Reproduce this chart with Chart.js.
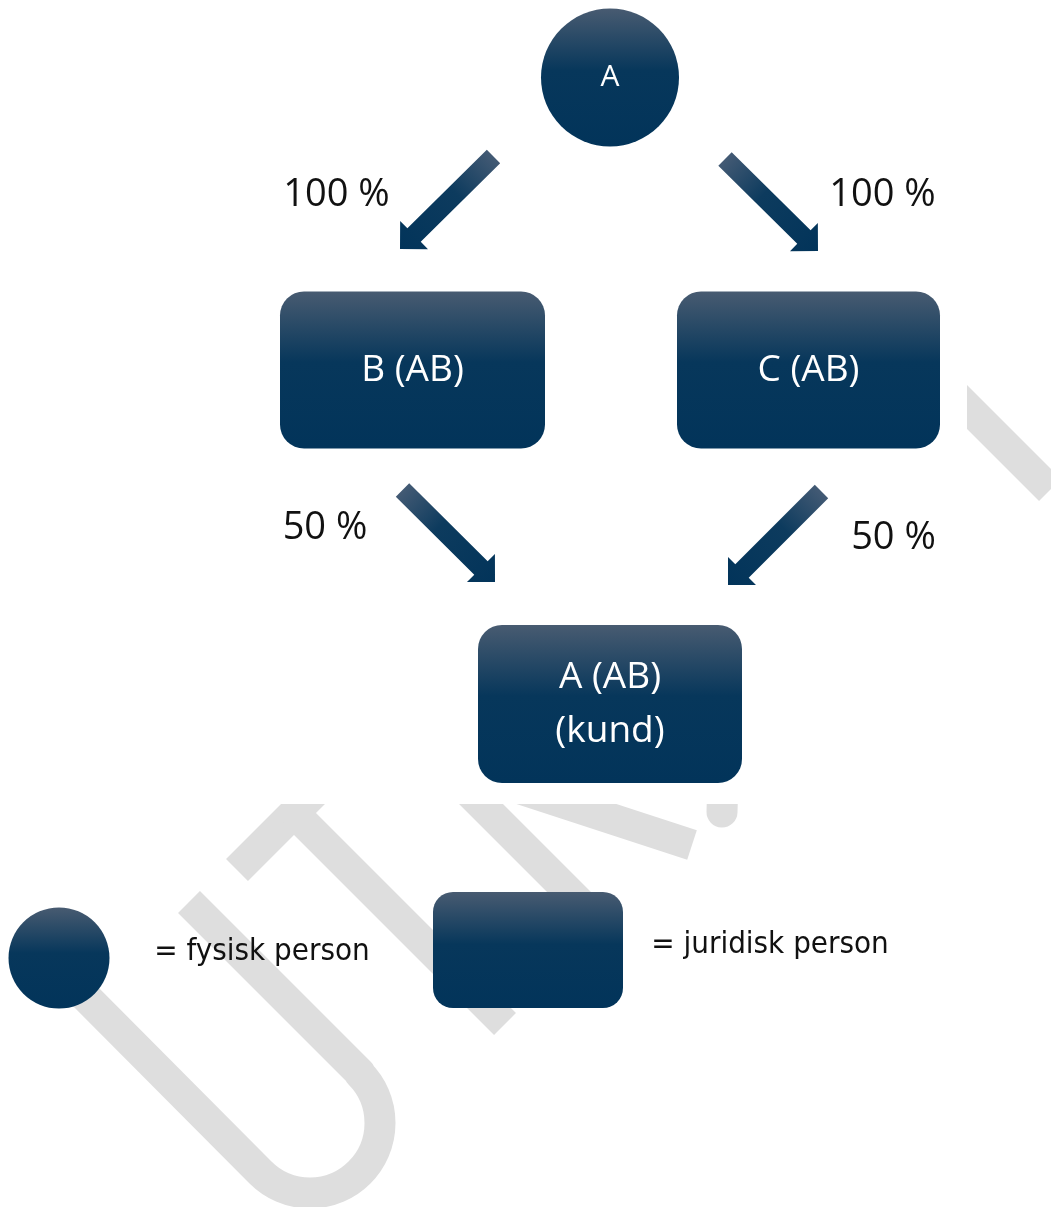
<!DOCTYPE html>
<html><head><meta charset="utf-8">
<script src="https://cdn.jsdelivr.net/npm/chart.js@4/dist/chart.umd.min.js"></script>
<style>html,body{margin:0;padding:0;background:#fff;overflow:hidden}canvas{display:block}</style>
</head><body>
<canvas id="c" width="1051" height="1207"></canvas>
<script>
// ---------------- data ----------------
const nodeNames = ['A', 'B (AB)', 'C (AB)', 'A (AB)\n(kund)'];
const nodeKinds = ['fysisk', 'juridisk', 'juridisk', 'juridisk'];
const ownerFrom = ['A', 'A', 'B (AB)', 'C (AB)'];
const ownerTo = ['B (AB)', 'C (AB)', 'A (AB)\n(kund)', 'A (AB)\n(kund)'];
const ownershipPct = [100, 100, 50, 50];
const legendKinds = ['fysisk', 'juridisk'];
const legendLabels = ['= fysisk person', '= juridisk person'];
const pctSuffix = ' %';

// ---------------- layout (diagram units, mapped by the chart scales) ----------------
const nodeLayout = [
  {x: 610, y: 77.5, r: 69},
  {x: 412.5, y: 370, w: 265, h: 157, rad: 24},
  {x: 808.5, y: 370, w: 263, h: 157, rad: 24},
  {x: 610, y: 704, w: 264, h: 158, rad: 24}
];
const arrowLayout = [
  {tail: [493.5, 156.5], tip: [400, 249], label: [336.5, 195]},
  {tail: [725, 159], tip: [818, 251], label: [882.5, 195]},
  {tail: [402.5, 490], tip: [495, 582], label: [325, 528]},
  {tail: [821.5, 491.5], tip: [728, 585], label: [893.5, 538]}
];
const legendLayout = [
  {shape: {x: 59, y: 958, r: 50.5}, text: [262, 952]},
  {shape: {x: 528, y: 950, w: 190, h: 116, rad: 20}, text: [770, 945]}
];
const watermarkPaths = [
  {pts: [[189, 902], [360, 1073]], arc: {c: [310, 1123], r: 70, a0: -45, a1: 135}, after: [[75, 986]], cap: 'butt'},
  {pts: [[237, 870], [460, 647]], cap: 'butt'},
  {pts: [[293.5, 812.5], [505, 1024]], cap: 'butt'},
  {pts: [[400, 723], [585, 908]], cap: 'butt'},
  {pts: [[450, 766], [692, 845]], cap: 'butt'},
  {pts: [[724, 740], [722, 812]], cap: 'round'},
  {pts: [[880, 320], [1050, 490]], cap: 'butt'}
];
const coverRect = [0, 0, 967, 804];

const style = {
  navyTop: '#485b71', navyMid: '#07375b', navyBottom: '#02345a',
  watermark: '#dedede', watermarkWidth: 31,
  shaftHalf: 9.5, headHalf: 19.8,
  nodeFont: '37px "Open Sans", "Noto Sans", sans-serif',
  circleFont: '30px "Open Sans", "Noto Sans", sans-serif',
  pctFont: '38px "Open Sans", "Noto Sans", sans-serif',
  legendFont: '31px "DejaVu Sans Condensed", "DejaVu Sans", sans-serif',
  lineGap: 54
};

// ---------------- drawing ----------------
function mk(chart) {
  const xs = chart.scales.x, ys = chart.scales.y;
  const P = (x, y) => [xs.getPixelForValue(x), ys.getPixelForValue(y)];
  const sx = v => Math.abs(xs.getPixelForValue(v) - xs.getPixelForValue(0));
  const sy = v => Math.abs(ys.getPixelForValue(v) - ys.getPixelForValue(0));
  return {P, sx, sy};
}
function vGrad(ctx, y0, y1) {
  const g = ctx.createLinearGradient(0, y0, 0, y1);
  g.addColorStop(0, style.navyTop);
  g.addColorStop(0.45, style.navyMid);
  g.addColorStop(1, style.navyBottom);
  return g;
}
function roundRect(ctx, x, y, w, h, r) {
  ctx.beginPath();
  ctx.moveTo(x + r, y);
  ctx.lineTo(x + w - r, y);
  ctx.arcTo(x + w, y, x + w, y + r, r);
  ctx.lineTo(x + w, y + h - r);
  ctx.arcTo(x + w, y + h, x + w - r, y + h, r);
  ctx.lineTo(x + r, y + h);
  ctx.arcTo(x, y + h, x, y + h - r, r);
  ctx.lineTo(x, y + r);
  ctx.arcTo(x, y, x + r, y, r);
  ctx.closePath();
}
function drawShape(ctx, m, L, kind) {
  const [cx, cy] = m.P(L.x, L.y);
  if (kind === 'fysisk') {
    const r = m.sx(L.r);
    ctx.fillStyle = vGrad(ctx, cy - r, cy + r);
    ctx.beginPath(); ctx.arc(cx, cy, r, 0, Math.PI * 2); ctx.fill();
  } else {
    const w = m.sx(L.w), h = m.sy(L.h);
    ctx.fillStyle = vGrad(ctx, cy - h / 2, cy + h / 2);
    roundRect(ctx, cx - w / 2, cy - h / 2, w, h, m.sx(L.rad));
    ctx.fill();
  }
}

const diagramPlugin = {
  id: 'diagram',
  beforeDraw(chart) {
    const ctx = chart.ctx, m = mk(chart);
    ctx.save();
    ctx.fillStyle = '#ffffff';
    ctx.fillRect(0, 0, chart.width, chart.height);
    ctx.strokeStyle = style.watermark;
    ctx.lineWidth = m.sx(style.watermarkWidth);
    ctx.lineJoin = 'round';
    watermarkPaths.forEach(p => {
      ctx.lineCap = p.cap;
      ctx.beginPath();
      p.pts.forEach((pt, i) => { const q = m.P(pt[0], pt[1]); i ? ctx.lineTo(q[0], q[1]) : ctx.moveTo(q[0], q[1]); });
      if (p.arc) {
        const c = m.P(p.arc.c[0], p.arc.c[1]);
        ctx.arc(c[0], c[1], m.sx(p.arc.r), p.arc.a0 * Math.PI / 180, p.arc.a1 * Math.PI / 180, false);
      }
      if (p.after) p.after.forEach(pt => { const q = m.P(pt[0], pt[1]); ctx.lineTo(q[0], q[1]); });
      ctx.stroke();
    });
    const a = m.P(coverRect[0], coverRect[1]), b = m.P(coverRect[2], coverRect[3]);
    ctx.fillStyle = '#ffffff';
    ctx.fillRect(a[0], a[1], b[0] - a[0], b[1] - a[1]);
    ctx.restore();
  },
  afterDatasetsDraw(chart) {
    const ctx = chart.ctx, m = mk(chart);
    ctx.save();
    nodeNames.forEach((name, i) => {
      const L = nodeLayout[i];
      drawShape(ctx, m, L, nodeKinds[i]);
      const [cx, cy] = m.P(L.x, L.y);
      ctx.fillStyle = '#ffffff';
      ctx.textAlign = 'center';
      ctx.textBaseline = 'middle';
      ctx.font = nodeKinds[i] === 'fysisk' ? style.circleFont : style.nodeFont;
      const lines = name.split('\n');
      lines.forEach((ln, k) => {
        const off = (k - (lines.length - 1) / 2) * m.sy(style.lineGap);
        ctx.fillText(ln, cx, cy + off);
      });
    });
    ownershipPct.forEach((v, i) => {
      const A = arrowLayout[i];
      const t = m.P(A.tail[0], A.tail[1]), p = m.P(A.tip[0], A.tip[1]);
      const dx = p[0] - t[0], dy = p[1] - t[1], len = Math.hypot(dx, dy);
      const ux = dx / len, uy = dy / len, nx = -uy, ny = ux;
      const H = m.sx(style.headHalf), s = m.sx(style.shaftHalf);
      const bx = p[0] - ux * H, by = p[1] - uy * H;
      const g = ctx.createLinearGradient(t[0], t[1], p[0], p[1]);
      g.addColorStop(0, '#435a74');
      g.addColorStop(0.4, '#0d3b5e');
      g.addColorStop(1, '#02345a');
      ctx.fillStyle = g;
      ctx.beginPath();
      ctx.moveTo(t[0] + nx * s, t[1] + ny * s);
      ctx.lineTo(bx + nx * s, by + ny * s);
      ctx.lineTo(bx + nx * H, by + ny * H);
      ctx.lineTo(p[0], p[1]);
      ctx.lineTo(bx - nx * H, by - ny * H);
      ctx.lineTo(bx - nx * s, by - ny * s);
      ctx.lineTo(t[0] - nx * s, t[1] - ny * s);
      ctx.closePath();
      ctx.fill();
      const lp = m.P(A.label[0], A.label[1]);
      ctx.fillStyle = '#111111';
      ctx.font = style.pctFont;
      ctx.textAlign = 'center';
      ctx.textBaseline = 'middle';
      ctx.fillText(v + pctSuffix, lp[0], lp[1]);
    });
    legendKinds.forEach((k, i) => {
      const L = legendLayout[i];
      drawShape(ctx, m, L.shape, k);
      const tp = m.P(L.text[0], L.text[1]);
      ctx.fillStyle = '#111111';
      ctx.font = style.legendFont;
      ctx.textAlign = 'center';
      ctx.textBaseline = 'middle';
      ctx.fillText(legendLabels[i], tp[0], tp[1]);
    });
    ctx.restore();
  }
};

new Chart(document.getElementById('c'), {
  type: 'scatter',
  data: {
    datasets: [{
      label: 'noder',
      data: nodeNames.map((n, i) => ({x: nodeLayout[i].x, y: nodeLayout[i].y})),
      pointRadius: 0,
      pointHoverRadius: 0
    }]
  },
  options: {
    responsive: false,
    animation: false,
    events: [],
    layout: {padding: 0},
    plugins: {legend: {display: false}, tooltip: {enabled: false}},
    scales: {
      x: {type: 'linear', min: 0, max: 1051, display: false},
      y: {type: 'linear', min: 0, max: 1207, reverse: true, display: false}
    }
  },
  plugins: [diagramPlugin]
});
</script>
</body></html>
